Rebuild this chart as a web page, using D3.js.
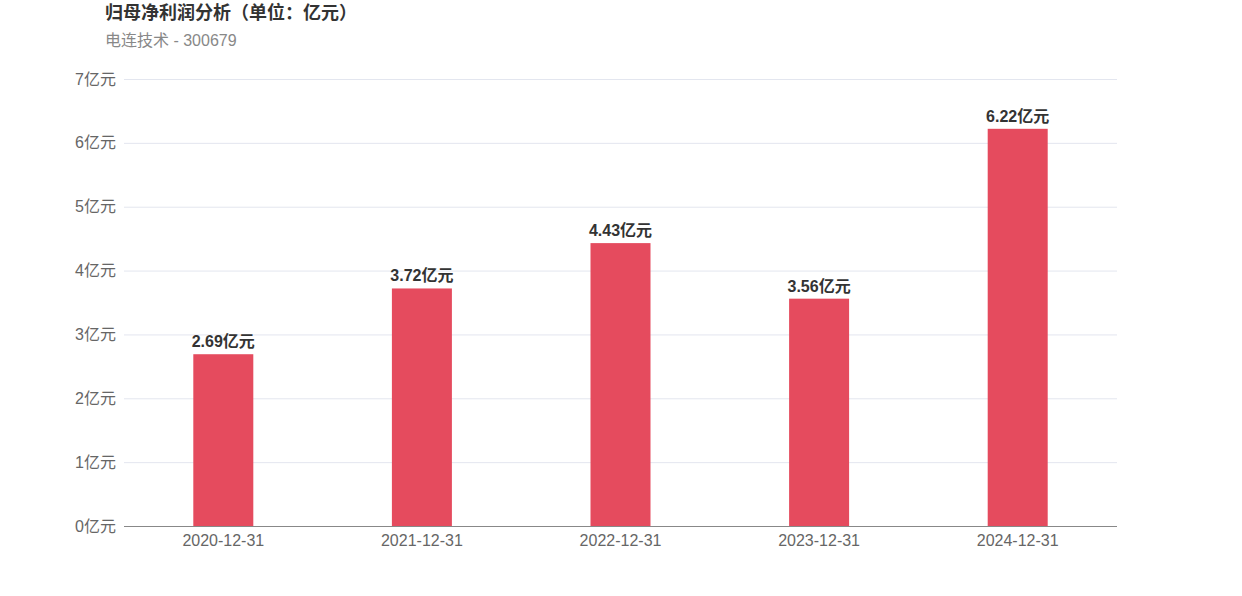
<!DOCTYPE html>
<html><head><meta charset="utf-8">
<script src="https://cdn.jsdelivr.net/npm/d3@7/dist/d3.min.js"></script>
<style>body{margin:0;background:#fff;font-family:"Liberation Sans","Noto Sans CJK SC",sans-serif;}</style>
</head><body><svg id="c" width="1242" height="596"></svg>
<script>
const categories = ["2020-12-31","2021-12-31","2022-12-31","2023-12-31","2024-12-31"];
const values = [2.69, 3.72, 4.43, 3.56, 6.22];
const yTicks = [0,1,2,3,4,5,6,7];
const title = "归母净利润分析（单位：亿元）";
const subtitle = "电连技术 - 300679";

const svg = d3.select("#c");
const font = '"Liberation Sans","Noto Sans CJK SC",sans-serif';
const m = {l:124, r:1117, t:79, b:526};
const x = d3.scaleBand().domain(categories).range([m.l, m.r]);
const y = d3.scaleLinear().domain([0,7]).range([m.b, m.t]);

svg.append("text").attr("x",105).attr("y",19).text(title)
  .attr("font-family",font).attr("font-size",18).attr("font-weight","bold").attr("fill","#333");
svg.append("text").attr("x",105).attr("y",46).text(subtitle)
  .attr("font-family",font).attr("font-size",16).attr("fill","#888");

svg.append("g").selectAll("line").data(yTicks.filter(d=>d>0)).join("line")
  .attr("x1",m.l).attr("x2",m.r).attr("y1",d=>y(d)+0.5).attr("y2",d=>y(d)+0.5)
  .attr("stroke","#e3e6ef").attr("stroke-width",1);

svg.append("g").selectAll("text").data(yTicks).join("text")
  .attr("x",116).attr("y",d=>y(d)).attr("dy","0.35em").attr("text-anchor","end")
  .attr("font-family",font).attr("font-size",16).attr("fill","#666")
  .text(d=>d+"亿元");

const bw = 60;
svg.append("g").selectAll("rect").data(values).join("rect")
  .attr("x",(d,i)=>x(categories[i])+x.bandwidth()/2-bw/2)
  .attr("width",bw)
  .attr("y",d=>y(d)).attr("height",d=>y(0)-y(d))
  .attr("fill","#e54b5e");

svg.append("g").selectAll("text").data(values).join("text")
  .attr("x",(d,i)=>x(categories[i])+x.bandwidth()/2)
  .attr("y",d=>y(d)-7).attr("text-anchor","middle")
  .attr("font-family",font).attr("font-size",16).attr("font-weight","bold").attr("fill","#333")
  .text(d=>d.toFixed(2)+"亿元");

svg.append("line").attr("x1",m.l).attr("x2",m.r).attr("y1",m.b+0.5).attr("y2",m.b+0.5)
  .attr("stroke","#888").attr("stroke-width",1);

svg.append("g").selectAll("text").data(categories).join("text")
  .attr("x",d=>x(d)+x.bandwidth()/2).attr("y",m.b+14).attr("dy","0.35em").attr("text-anchor","middle")
  .attr("font-family",font).attr("font-size",16).attr("fill","#666")
  .text(d=>d);
</script></body></html>
